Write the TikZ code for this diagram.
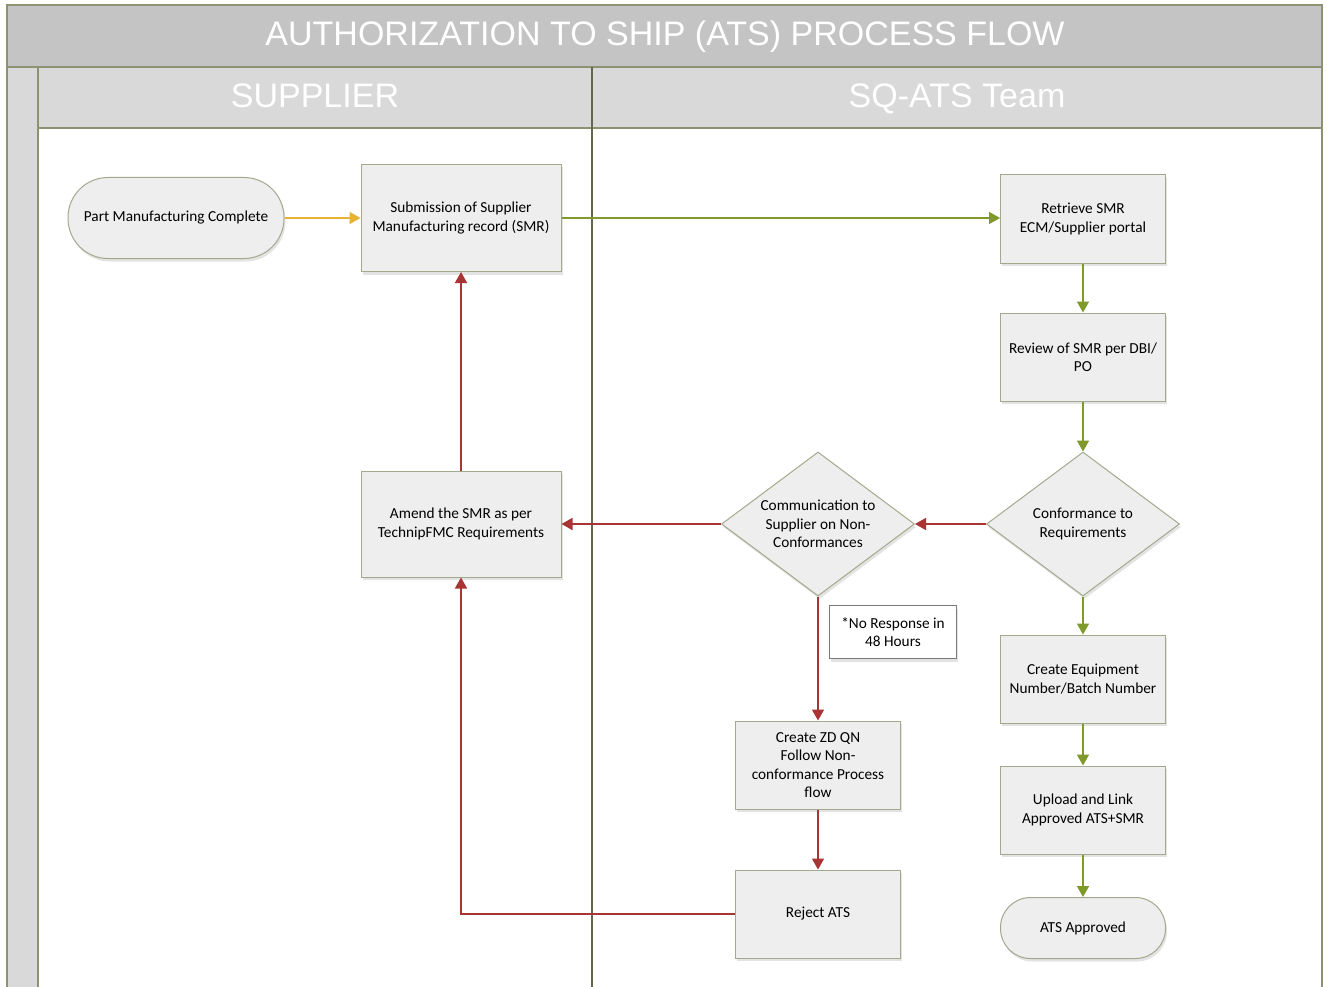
\documentclass[tikz,border=0pt]{standalone}
\usepackage{fontspec}
\setmainfont{Carlito}
\newfontfamily\headfont{Liberation Sans}
\usetikzlibrary{shapes.geometric,arrows.meta,shadows}
\definecolor{bandgray}{HTML}{C4C4C4}
\definecolor{lanegray}{HTML}{D9D9D9}
\definecolor{frameol}{HTML}{8C9272}
\definecolor{divol}{HTML}{5F6A4C}
\definecolor{boxfill}{HTML}{EEEEEE}
\definecolor{boxline}{HTML}{A3A98D}
\definecolor{flowgreen}{HTML}{7F9A2A}
\definecolor{flowred}{HTML}{A83434}
\definecolor{flowyellow}{HTML}{E8B235}
\definecolor{notegray}{HTML}{7A7A7A}
\tikzset{
  x=1pt, y=-1pt,
  shad/.style={drop shadow={opacity=0.22, shadow xshift=1.5pt, shadow yshift=-3pt}},
  procbox/.style={draw=boxline, line width=1pt, fill=boxfill, shad, inner sep=2pt,
    align=center, font=\fontsize{15.3}{18.5}\selectfont, text=black},
  termbox/.style={procbox, rounded corners=#1},
  decbox/.style={draw=boxline, line width=1pt, fill=boxfill, shad, diamond, inner sep=0pt,
    aspect=1.34, align=center, font=\fontsize{15.3}{18.5}\selectfont,
    minimum width=193pt, minimum height=144pt},
  notebox/.style={draw=notegray, line width=1pt, fill=white, shad, inner sep=2pt,
    align=center, font=\fontsize{15.3}{18.5}\selectfont, minimum width=127pt, minimum height=53pt},
  headtxt/.style={text=white, anchor=base, font=\headfont\fontsize{34}{40}\selectfont},
  flow/.style={line width=1.6pt, -{Triangle[length=11pt,width=12pt]}},
  gflow/.style={flow, draw=flowgreen, color=flowgreen},
  rflow/.style={flow, draw=flowred, color=flowred},
  yflow/.style={flow, draw=flowyellow, color=flowyellow},
}
\begin{document}
\begin{tikzpicture}
\useasboundingbox (0,0) rectangle (1327,987);
\begin{scope}
\clip (0,0) rectangle (1327,987);
\fill[white] (0,0) rectangle (1327,987);
% frame
\draw[frameol, line width=1.2pt, fill=bandgray] (7,5) rectangle (1322,67);
\draw[frameol, line width=1.2pt, fill=lanegray] (7,67) rectangle (38,1000);
\draw[frameol, line width=1.2pt, fill=lanegray] (38,67) rectangle (592,128);
\draw[frameol, line width=1.2pt, fill=lanegray] (592,67) rectangle (1322,128);
\draw[frameol, line width=1.2pt] (1322,128) -- (1322,1000);
\draw[divol, line width=1.4pt] (592,67) -- (592,1000);
\end{scope}
\node[headtxt] (title) at (665,46) {AUTHORIZATION TO SHIP (ATS) PROCESS FLOW};
\node[headtxt] (lsup) at (315,108) {SUPPLIER};
\node[headtxt] (lsq) at (957,108) {SQ-ATS Team};
% nodes
\node[termbox=40pt, minimum width=216pt, minimum height=81pt] (part) at (176,218) {Part Manufacturing Complete};
\node[procbox, minimum width=200pt, minimum height=107pt] (sub) at (461,218) {Submission of Supplier\\Manufacturing record (SMR)};
\node[procbox, minimum width=165pt, minimum height=88pt] (ret) at (1083,219) {Retrieve SMR\\ECM/Supplier portal};
\node[procbox, minimum width=165pt, minimum height=88pt] (rev) at (1083,357) {Review of SMR per DBI/\\PO};
\node[decbox] (conf) at (1083,524) {Conformance to\\Requirements};
\node[decbox] (comm) at (818,524) {Communication to\\Supplier on Non-\\Conformances};
\node[procbox, minimum width=200pt, minimum height=106pt] (amend) at (461,524) {Amend the SMR as per\\TechnipFMC Requirements};
\node[notebox] (note) at (893,632) {*No Response in\\48 Hours};
\node[procbox, minimum width=165pt, minimum height=88pt] (zd) at (818,765) {Create ZD QN\\Follow Non-\\conformance Process\\flow};
\node[procbox, minimum width=165pt, minimum height=88pt] (rej) at (818,914) {Reject ATS};
\node[procbox, minimum width=165pt, minimum height=88pt] (eq) at (1083,679) {Create Equipment\\Number/Batch Number};
\node[procbox, minimum width=165pt, minimum height=88pt] (up) at (1083,810) {Upload and Link\\Approved ATS+SMR};
\node[termbox=30pt, minimum width=165pt, minimum height=61pt] (app) at (1083,928) {ATS Approved};
% connectors
\draw[yflow] (part) -- (sub);
\draw[gflow] (sub) -- (sub -| ret.west);
\draw[gflow] (ret) -- (rev);
\draw[gflow] (rev) -- (conf.north);
\draw[gflow] (conf.south) -- (eq);
\draw[gflow] (eq) -- (up);
\draw[gflow] (up) -- (app);
\draw[rflow] (conf.west) -- (comm.east);
\draw[rflow] (comm.west) -- (amend.east);
\draw[rflow] (amend) -- (sub);
\draw[rflow] (comm.south) -- (zd);
\draw[rflow] (zd) -- (rej);
\draw[rflow] (rej.west) -| (amend.south);
\end{tikzpicture}
\end{document}
